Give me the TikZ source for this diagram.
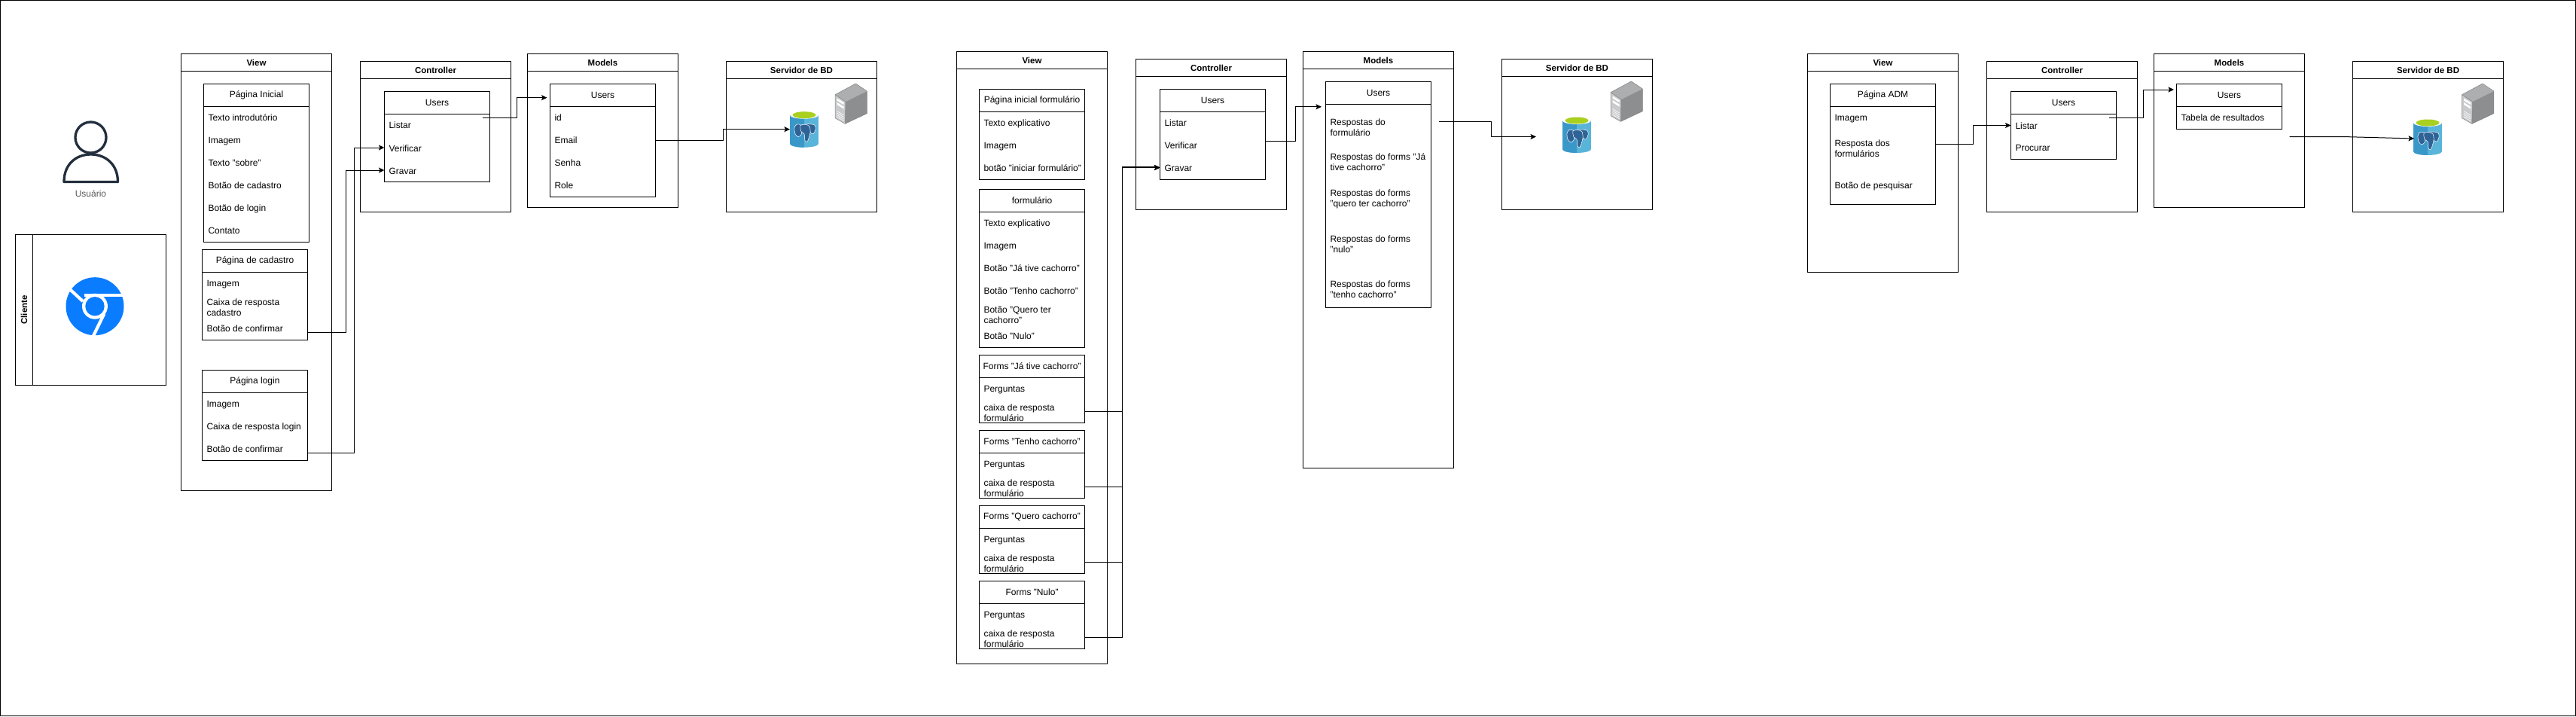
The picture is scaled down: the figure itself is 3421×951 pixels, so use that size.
\documentclass[tikz,border=0pt]{standalone}
\usepackage{fontspec}
\setmainfont{Liberation Sans}
\usetikzlibrary{arrows.meta}
\definecolor{inkdark}{HTML}{232F3E}
\definecolor{chromeblue}{HTML}{0A7CFF}
\definecolor{dbleft}{HTML}{3A98C9}
\definecolor{dbright}{HTML}{59B4D9}
\definecolor{dbgreen}{HTML}{A9CF1F}
\definecolor{dbelephant}{HTML}{2F6396}
\definecolor{srvfront}{HTML}{C9CACB}
\definecolor{srvtop}{HTML}{ADAEB0}
\definecolor{srvright}{HTML}{8C8E90}
\tikzset{
  framebox/.style={draw=black,line width=1pt,anchor=north west,inner sep=0pt,outer sep=0pt},
  bartitle/.style={font=\fontsize{11.5}{14}\selectfont\bfseries,inner sep=0pt},
  clstitle/.style={font=\fontsize{12}{14}\selectfont,inner sep=0pt},
  rowline/.style={font=\fontsize{12}{14}\selectfont,anchor=west,inner ysep=0pt,inner xsep=6pt,outer sep=0pt,text height=11pt,text depth=.5pt},
  rowtwo/.style={font=\fontsize{12}{14}\selectfont,anchor=west,inner ysep=0pt,inner xsep=6pt,outer sep=0pt,align=left,yshift=-1pt},
  conn/.style={line width=1pt,-{Stealth[length=7.5pt,width=7pt,inset=1.5pt]}},
  plainconn/.style={line width=1pt},
  dbicon/.pic={
    \fill[dbright] (0,5) rectangle (38,43);
    \fill[dbright] (19,43) ellipse [x radius=19,y radius=5];
    \begin{scope}
      \clip (0,0) rectangle (19,48);
      \fill[dbleft] (0,5) rectangle (19,43);
      \fill[dbleft] (19,43) ellipse [x radius=19,y radius=5];
    \end{scope}
    \fill[white] (19,5) ellipse [x radius=19,y radius=5];
    \fill[dbgreen] (19,5) ellipse [x radius=15.5,y radius=4.5];
    \draw[white,line width=.5pt,fill=dbelephant] plot[smooth cycle] coordinates {(6,22)(9,17.5)(14,18)(16,24)(15,31)(11,34)(7,30)};
    \draw[white,line width=.5pt,fill=dbelephant] plot[smooth cycle] coordinates {(19,18)(26,17)(33,18.5)(34,24)(31,30)(27,28)(26,23)};
    \draw[white,line width=.5pt,fill=dbelephant] plot[smooth cycle] coordinates {(14,19)(20,17.5)(26,20)(27,28)(25,36)(23,40.5)(20,39)(19,30)(15,27)};
  },
  srvicon/.pic={
    \fill[srvfront] (0,14.7) -- (14,24) -- (13.3,53.3) -- (0,45.7) -- cycle;
    \fill[srvtop] (0,14.7) -- (27.3,0) -- (42.3,10) -- (14,24) -- cycle;
    \fill[srvright] (14,24) -- (42.3,10) -- (42.3,39.7) -- (13.3,53.3) -- cycle;
    \draw[gray,line width=.5pt,line join=round] (0,14.7) -- (27.3,0) -- (42.3,10) -- (42.3,39.7) -- (13.3,53.3) -- (0,45.7) -- cycle;
    \draw[gray,line width=.5pt] (0,14.7) -- (14,24) -- (13.3,53.3);
    \fill[white] (2.5,19.5) -- (11.5,25) -- (11.5,28) -- (2.5,22.5) -- cycle;
    \fill[white] (2.5,25) -- (11.5,30.5) -- (11.5,33.5) -- (2.5,28) -- cycle;
    \foreach \g in {36.5,39,41.5,44}{
      \draw[white,line width=.6pt] (2.5,\g) -- (11.5,\g+5.5);
    }
  }
}
% #1 name, #2 x, #3 y, #4 w, #5 h, #6 header height, #7 title style, #8 title
\newcommand{\Lane}[8]{%
  \node[framebox,minimum width=#4pt,minimum height=#5pt] (#1) at (#2,#3) {};
  \draw[line width=1pt] ([yshift=-#6pt]#1.north west) -- ([yshift=-#6pt]#1.north east);
  \node[#7] (#1-title) at ([yshift=-#6pt/2]#1.north) {#8};
}
\newcommand{\Row}[4]{\node[rowline] (#1) at (#2.west |- 0,#3) {#4};}
\newcommand{\RowTwo}[4]{\node[rowtwo] (#1) at (#2.west |- 0,#3) {#4};}
\begin{document}
\begin{tikzpicture}[x=1pt,y=-1pt]
\useasboundingbox (0,0) rectangle (3421,951);
\fill[white] (0,0) rectangle (3421,951);
\draw[line width=1.3pt] (0.5,0.5) rectangle (3420.5,950.3);

% user
\draw[inkdark,line width=3.3pt] (120.5,182.5) circle [radius=20.5];
\draw[inkdark,line width=3.3pt,line join=round,fill=white] (85,241.5) .. controls (85,218) and (101,205) .. (120.7,205) .. controls (140,205) and (156.5,218) .. (156.5,241.5) -- cycle;
\node[font=\fontsize{12}{14}\selectfont,text=black!65,inner sep=0pt] (usuario) at (120.5,257) {Usuário};

% client
\node[framebox,minimum width=200pt,minimum height=200pt] (cliente) at (20.5,311.5) {};
\draw[line width=1pt] ([xshift=23pt]cliente.north west) -- ([xshift=23pt]cliente.south west);
\node[bartitle,rotate=90] (cliente-title) at ([xshift=11.5pt]cliente.west) {Cliente};
\fill[chromeblue] (126,406.7) circle [radius=38.5];
\fill[white] (126,406.7) circle [radius=17];
\draw[white,line width=4.2pt] (111.7,391.7) -- (168,391.7);
\draw[white,line width=4.2pt] (90,381.5) -- (110,400);
\draw[white,line width=4.2pt] (138.3,416.7) -- (122.5,449);
\fill[chromeblue] (126,406.7) circle [radius=12.7];

% ---- first group
\Lane{v1}{240.5}{71.5}{200}{580}{23}{bartitle}{View}
\Lane{pi}{270.5}{111.5}{140}{210}{30}{clstitle}{Página Inicial}
\Row{pi1}{pi}{155.5}{Texto introdutório}
\Row{pi2}{pi}{185.5}{Imagem}
\Row{pi3}{pi}{215.5}{Texto "sobre"}
\Row{pi4}{pi}{245.5}{Botão de cadastro}
\Row{pi5}{pi}{275.5}{Botão de login}
\Row{pi6}{pi}{305.5}{Contato}
\Lane{pc}{268.5}{331.5}{140}{120}{30}{clstitle}{Página de cadastro}
\Row{pc1}{pc}{375.5}{Imagem}
\RowTwo{pc2}{pc}{407.5}{Caixa de resposta\\cadastro}
\Row{pc3}{pc}{435.5}{Botão de confirmar}
\Lane{pl}{268.5}{491.5}{140}{120}{30}{clstitle}{Página login}
\Row{pl1}{pl}{535.5}{Imagem}
\Row{pl2}{pl}{565.5}{Caixa de resposta login}
\Row{pl3}{pl}{595.5}{Botão de confirmar}

\Lane{c1}{478.5}{81.5}{200}{200}{23}{bartitle}{Controller}
\Lane{cu1}{510.5}{121.5}{140}{120}{30}{clstitle}{Users}
\Row{cu1a}{cu1}{165.5}{Listar}
\Row{cu1b}{cu1}{196}{Verificar}
\Row{cu1c}{cu1}{226}{Gravar}

\Lane{m1}{700.5}{71.5}{200}{204}{23}{bartitle}{Models}
\Lane{mu1}{730.5}{111.5}{140}{150}{30}{clstitle}{Users}
\Row{mu1a}{mu1}{155.5}{id}
\Row{mu1b}{mu1}{185.5}{Email}
\Row{mu1c}{mu1}{215.5}{Senha}
\Row{mu1d}{mu1}{245.5}{Role}

\Lane{s1}{964.5}{81.5}{200}{200}{23}{bartitle}{Servidor de BD}
\pic at (1049,147.7) {dbicon};
\pic at (1109,111) {srvicon};
\coordinate (db1) at (1049,171.7);
\coordinate (l1) at (641,156.5);
\coordinate (mu1in) at (726.5,129.7);

\draw[conn] (pc.east |- 0,441.5) -- (459.5,441.5) |- (cu1c.west);
\draw[conn] (pl.east |- 0,601.5) -- (470.5,601.5) |- (cu1b.west);
\draw[conn] (l1) -- (686,156.5) |- (mu1in);
\draw[conn] (mu1.east |- 0,186.5) -- (960,186.5) |- (db1);

% ---- second group
\Lane{v2}{1270.5}{68.5}{200}{813}{23}{bartitle}{View}
\Lane{fi}{1300.5}{118.5}{140}{120}{30}{clstitle}{Página inicial formulário}
\Row{fi1}{fi}{162.5}{Texto explicativo}
\Row{fi2}{fi}{192.5}{Imagem}
\Row{fi3}{fi}{222.5}{botão "iniciar formulário"}
\Lane{ff}{1300.5}{251.5}{140}{210}{30}{clstitle}{formulário}
\Row{ff1}{ff}{295.5}{Texto explicativo}
\Row{ff2}{ff}{325.5}{Imagem}
\Row{ff3}{ff}{355.5}{Botão "Já tive cachorro"}
\Row{ff4}{ff}{385.5}{Botão "Tenho cachorro"}
\RowTwo{ff5}{ff}{417.5}{Botão "Quero ter\\cachorro"}
\Row{ff6}{ff}{445.5}{Botão "Nulo"}
\Lane{fa}{1300.5}{471.5}{140}{90}{30}{clstitle}{Forms "Já tive cachorro"}
\Row{fa1}{fa}{515.5}{Perguntas}
\RowTwo{fa2}{fa}{547.5}{caixa de resposta\\formulário}
\Lane{fb}{1300.5}{571.5}{140}{90}{30}{clstitle}{Forms "Tenho cachorro"}
\Row{fb1}{fb}{615.5}{Perguntas}
\RowTwo{fb2}{fb}{647.5}{caixa de resposta\\formulário}
\Lane{fc}{1300.5}{671.5}{140}{90}{30}{clstitle}{Forms "Quero cachorro"}
\Row{fc1}{fc}{715.5}{Perguntas}
\RowTwo{fc2}{fc}{747.5}{caixa de resposta\\formulário}
\Lane{fd}{1300.5}{771.5}{140}{90}{30}{clstitle}{Forms "Nulo"}
\Row{fd1}{fd}{815.5}{Perguntas}
\RowTwo{fd2}{fd}{847.5}{caixa de resposta\\formulário}

\Lane{c2}{1508.5}{78.5}{200}{200}{23}{bartitle}{Controller}
\Lane{cu2}{1540.5}{118.5}{140}{120}{30}{clstitle}{Users}
\Row{cu2a}{cu2}{162.5}{Listar}
\Row{cu2b}{cu2}{192.5}{Verificar}
\Row{cu2c}{cu2}{222.5}{Gravar}

\Lane{m2}{1730.5}{68.5}{200}{553}{23}{bartitle}{Models}
\Lane{mu2}{1760.5}{108.5}{140}{300}{30}{clstitle}{Users}
\RowTwo{mu2a}{mu2}{168}{Respostas do\\formulário}
\RowTwo{mu2b}{mu2}{214.5}{Respostas do forms "Já\\tive cachorro"}
\RowTwo{mu2c}{mu2}{263}{Respostas do forms\\"quero ter cachorro"}
\RowTwo{mu2d}{mu2}{323}{Respostas do forms\\"nulo"}
\RowTwo{mu2e}{mu2}{383}{Respostas do forms\\"tenho cachorro"}

\Lane{s2}{1994.5}{78.5}{200}{200}{23}{bartitle}{Servidor de BD}
\pic at (2075,155) {dbicon};
\pic at (2139,108) {srvicon};
\coordinate (mu2in) at (1755,141.8);
\coordinate (m2out) at (1910.5,161.5);
\coordinate (db2) at (2040,181.5);

\draw[plainconn] (fa.east |- 0,546.5) -- (1490.5,546.5) -- (1490.5,221) -- (1535,221);
\draw[conn] (fb.east |- 0,646.5) -- (1490.5,646.5) |- (cu2c.west);
\draw[conn] (fc.east |- 0,746.5) -- (1490.5,746.5) |- (cu2c.west);
\draw[conn] (fd.east |- 0,846.5) -- (1490.5,846.5) |- (cu2c.west);
\draw[conn] (cu2.east |- 0,187.5) -- (1720.5,187.5) |- (mu2in);
\draw[conn] (m2out) -- (1980.5,161.5) |- (db2);

% ---- third group
\Lane{v3}{2400.5}{71.5}{200}{290}{23}{bartitle}{View}
\Lane{pa}{2430.5}{111.5}{140}{160}{30}{clstitle}{Página ADM}
\Row{pa1}{pa}{155.5}{Imagem}
\RowTwo{pa2}{pa}{196}{Resposta dos\\formulários}
\Row{pa3}{pa}{245.5}{Botão de pesquisar}

\Lane{c3}{2638.5}{81.5}{200}{200}{23}{bartitle}{Controller}
\Lane{cu3}{2670.5}{121.5}{140}{90}{30}{clstitle}{Users}
\Row{cu3a}{cu3}{166.5}{Listar}
\Row{cu3b}{cu3}{195.5}{Procurar}

\Lane{m3}{2860.5}{71.5}{200}{204}{23}{bartitle}{Models}
\Lane{mu3}{2890.5}{111.5}{140}{60}{30}{clstitle}{Users}
\Row{mu3a}{mu3}{155.5}{Tabela de resultados}

\Lane{s3}{3124.5}{81.5}{200}{200}{23}{bartitle}{Servidor de BD}
\pic at (3205,158) {dbicon};
\pic at (3269.5,111) {srvicon};
\coordinate (l3) at (2801,156.5);
\coordinate (mu3in) at (2887,119);
\coordinate (m3out) at (3040.5,181.5);
\coordinate (db3) at (3206,184);

\draw[conn] (pa.east |- 0,191.5) -- (2620.5,191.5) |- (cu3a.west);
\draw[conn] (l3) -- (2846.5,156.5) |- (mu3in);
\draw[conn] (m3out) -- (3111,181.5) -- (db3);
\end{tikzpicture}
\end{document}
